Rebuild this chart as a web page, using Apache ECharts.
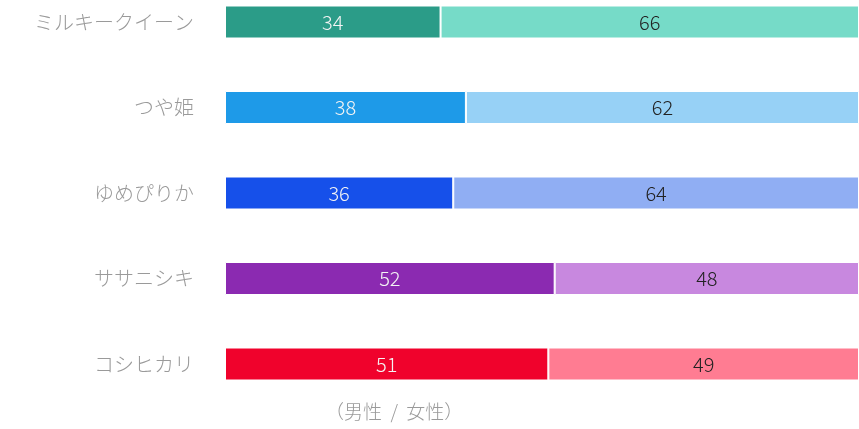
<!DOCTYPE html>
<html>
<head>
<meta charset="utf-8">
<script src="https://cdn.jsdelivr.net/npm/echarts@6/dist/echarts.min.js"></script>
<style>
  html, body { margin: 0; padding: 0; background: #fff; }
  #chart { width: 859px; height: 429px; }
</style>
</head>
<body>
<div id="chart"></div>
<script>
// 品種ごとの男女比率（上から順）
const varieties = ['ミルキークイーン', 'つや姫', 'ゆめぴりか', 'ササニシキ', 'コシヒカリ']
const male = [34, 38, 36, 52, 51]
const female = [66, 62, 64, 48, 49]
const maleColors = ['#2b9c88', '#1e9ae8', '#1650ea', '#8b2ab1', '#f0022c']
const femaleColors = ['#76dbc8', '#97d1f6', '#90aef3', '#c888df', '#ff7c92']

const chart = echarts.init(document.getElementById('chart'))

const mkData = (vals, colors) => vals.map((v, i) => ({
    value: v,
    itemStyle: { color: colors[i] }
}))

const option = {
    animation: false,
    grid: {
        left: 225,
        right: -1,
        top: 22,
        bottom: 65
    },
    xAxis: {
        type: 'value',
        min: 0,
        max: 100,
        show: false
    },
    yAxis: {
        type: 'category',
        data: varieties,
        inverse: true,
        boundaryGap: false,
        axisLine: { show: false },
        axisTick: { show: false },
        splitLine: { show: false },
        axisLabel: {
            color: '#9a9a9a',
            fontSize: 20,
            margin: 31,
            fontWeight: 300,
            fontFamily: 'Noto Sans CJK JP'
        }
    },
    series: [
        {
            name: '男性',
            type: 'bar',
            stack: 'total',
            barWidth: 33,
            data: mkData(male, maleColors),
            itemStyle: { borderColor: '#fff', borderWidth: 1 },
            label: {
                show: true,
                color: '#f4f4f4',
                fontSize: 20,
                fontWeight: 300,
                fontFamily: 'Noto Sans CJK JP'
            }
        },
        {
            name: '女性',
            type: 'bar',
            stack: 'total',
            barWidth: 33,
            data: mkData(female, femaleColors),
            itemStyle: { borderColor: '#fff', borderWidth: 1 },
            label: {
                show: true,
                color: '#222',
                fontSize: 20,
                fontWeight: 300,
                fontFamily: 'Noto Sans CJK JP'
            }
        }
    ],
    graphic: [
        {
            type: 'text',
            left: 325,
            top: 402,
            style: {
                text: '（男性  /  女性）',
                fill: '#9a9a9a',
                fontSize: 19,
                fontWeight: 300,
                fontFamily: 'Noto Sans CJK JP'
            }
        }
    ]
}

chart.setOption(option)
</script>
</body>
</html>
